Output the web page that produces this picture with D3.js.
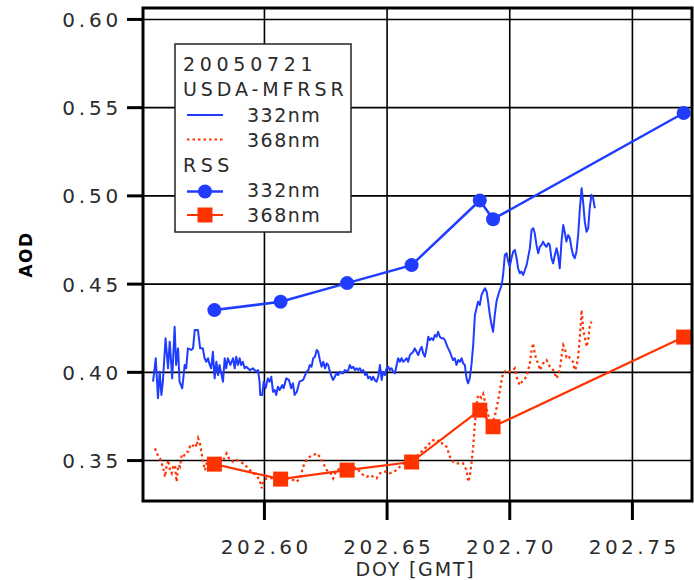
<!DOCTYPE html>
<html><head><meta charset="utf-8">
<script src="https://cdn.jsdelivr.net/npm/d3@7"></script>
<style>
body{margin:0;background:#fff;}
svg{display:block;font-family:"DejaVu Sans",Verdana,sans-serif;}
</style></head>
<body><svg id="c" width="694" height="580"></svg>
<script>
// ---------- data ----------
const xTicks = [202.60, 202.65, 202.70, 202.75];
const yTicks = [0.35, 0.40, 0.45, 0.50, 0.55, 0.60];

const rssDoy = [202.5798, 202.6068, 202.6339, 202.6602, 202.6880, 202.6934, 202.7711];
const rss332 = [0.4350, 0.4397, 0.4503, 0.4605, 0.4971, 0.4865, 0.5467];
const rss368 = [0.3477, 0.3392, 0.3443, 0.3489, 0.3783, 0.3689, 0.4197];

const mfrsrDoy332 = [202.5548,202.5559,202.5568,202.5575,202.5582,202.5588,202.5599,202.5609,202.5616,202.5626,202.5636,202.5642,202.5650,202.5656,202.5667,202.5677,202.5683,202.5690,202.5704,202.5711,202.5718,202.5731,202.5740,202.5751,202.5758,202.5765,202.5772,202.5779,202.5785,202.5792,202.5799,202.5806,202.5813,202.5819,202.5833,202.5840,202.5846,202.5853,202.5863,202.5874,202.5881,202.5887,202.5894,202.5901,202.5907,202.5914,202.5921,202.5928,202.5942,202.5955,202.5969,202.5976,202.5982,202.5985,202.5993,202.5999,202.6007,202.6016,202.6023,202.6030,202.6037,202.6044,202.6050,202.6057,202.6064,202.6075,202.6080,202.6091,202.6102,202.6111,202.6118,202.6125,202.6134,202.6145,
202.6160,202.6174,202.6181,202.6187,202.6194,202.6201,202.6208,202.6215,202.6221,202.6228,202.6235,202.6242,202.6249,202.6256,202.6262,202.6269,202.6276,202.6282,202.6289,202.6296,202.6303,202.6310,202.6317,202.6323,202.6330,202.6337,202.6344,202.6350,202.6357,202.6364,202.6371,202.6378,202.6384,202.6391,202.6398,202.6405,202.6412,202.6419,202.6425,202.6432,202.6439,202.6445,202.6452,202.6459,202.6466,202.6473,202.6480,202.6486,202.6493,202.6500,202.6507,202.6513,202.6520,202.6527,202.6534,202.6541,202.6547,202.6554,202.6561,202.6568,202.6575,202.6582,202.6588,202.6595,202.6602,202.6608,202.6615,202.6622,202.6629,202.6636,202.6643,202.6649,202.6656,202.6663,202.6670,202.6676,202.6683,202.6690,202.6697,202.6704,202.6710,202.6717,202.6724,202.6731,202.6738,202.6745,202.6751,202.6758,202.6765,202.6771,202.6778,202.6785,202.6792,202.6799,202.6806,202.6812,202.6819,202.6826,202.6832,
202.6839,202.6846,202.6853,202.6860,202.6873,202.6880,202.6887,202.6901,202.6908,202.6914,202.6921,202.6928,202.6934,202.6941,202.6948,202.6955,202.6969,202.6975,202.6982,202.6989,202.6996,202.7002,202.7009,202.7016,202.7023,202.7030,202.7036,202.7043,202.7050,202.7057,202.7064,202.7071,202.7084,202.7091,202.7098,202.7104,202.7111,202.7118,202.7125,202.7132,202.7138,202.7145,202.7152,202.7159,202.7165,202.7172,202.7179,202.7186,202.7193,202.7199,202.7206,202.7213,202.7220,202.7227,202.7233,202.7240,202.7247,202.7254,202.7260,202.7267,202.7274,202.7281,202.7288,202.7295,202.7301,202.7308,202.7315,202.7322,202.7328,202.7335,202.7342,202.7349];
const mfrsr332 = [0.3944,0.4077,0.3850,0.4001,0.3869,0.3944,0.4190,0.4020,0.4171,0.3963,0.4256,0.4039,0.4133,0.3944,0.3907,0.4039,0.4020,0.4133,0.4124,0.4133,0.4237,0.4237,0.4133,0.4133,0.4077,0.4057,0.4077,0.4039,0.4020,0.4114,0.3963,0.4057,0.3982,0.4039,0.3944,0.4077,0.4020,0.4077,0.4039,0.4077,0.4020,0.4086,0.4039,0.4077,0.4039,0.4057,0.4020,0.4029,0.4010,0.4020,0.4001,0.4010,0.3944,0.3869,0.3869,0.3944,0.3907,0.3963,0.3944,0.3972,0.3887,0.3897,0.3869,0.3916,0.3897,0.3925,0.3907,0.3963,0.3954,0.3907,0.3935,0.3869,0.3887,0.3944,
0.3954,0.4001,0.4010,0.4039,0.4029,0.4077,0.4086,0.4124,0.4114,0.4067,0.4029,0.4057,0.4020,0.4048,0.4039,0.4001,0.3972,0.3954,0.3972,0.3992,0.3982,0.4001,0.3992,0.3992,0.4010,0.4001,0.4010,0.4039,0.4020,0.4029,0.4010,0.4020,0.4010,0.4020,0.4001,0.4010,0.3982,0.3992,0.3963,0.3972,0.3954,0.3972,0.3954,0.3944,0.3972,0.4039,0.3954,0.4001,0.3982,0.4020,0.4029,0.4010,0.4020,0.4001,0.3992,0.4039,0.4077,0.4057,0.4077,0.4057,0.4067,0.4077,0.4057,0.4095,0.4105,0.4114,0.4133,0.4114,0.4095,0.4124,0.4142,0.4105,0.4086,0.4133,0.4199,0.4180,0.4190,0.4180,0.4209,0.4199,0.4227,0.4199,0.4190,0.4190,0.4180,0.4152,0.4133,0.4114,0.4086,0.4067,0.4077,0.4039,0.4067,0.4057,0.4077,0.4048,0.4039,0.3963,0.3935,
0.3963,0.4039,0.4152,0.4322,0.4398,0.4379,0.4436,0.4474,0.4454,0.4398,0.4322,0.4265,0.4227,0.4322,0.4398,0.4436,0.4492,0.4549,0.4662,0.4672,0.4624,0.4596,0.4644,0.4681,0.4691,0.4644,0.4587,0.4559,0.4568,0.4549,0.4577,0.4606,0.4700,0.4804,0.4814,0.4785,0.4719,0.4672,0.4709,0.4719,0.4738,0.4719,0.4709,0.4729,0.4719,0.4644,0.4615,0.4662,0.4700,0.4662,0.4587,0.4738,0.4832,0.4785,0.4738,0.4776,0.4757,0.4700,0.4662,0.4644,0.4681,0.4776,0.4927,0.5041,0.4965,0.4851,0.4794,0.4814,0.4927,0.5003,0.4984,0.4927];

const mfrsrDoy368 = [202.5556,202.5563,202.5576,202.5583,202.5590,202.5597,202.5603,202.5610,202.5617,202.5624,202.5630,202.5637,202.5644,202.5651,202.5658,202.5665,202.5671,202.5685,202.5692,202.5698,202.5705,202.5712,202.5719,202.5726,202.5732,202.5739,202.5746,202.5753,202.5760,202.5767,202.5780,202.5800,202.5821,202.5834,202.5848,202.5861,202.5875,202.5889,202.5902,202.5916,202.5930,202.5943,202.5956,202.5970,202.5977,202.5984,202.5991,202.5997,202.6011,202.6045,202.6086,202.6106,202.6119,202.6133,202.6147,202.6160,202.6174,202.6187,202.6201,202.6215,202.6228,202.6242,202.6256,202.6269,202.6282,202.6296,202.6318,202.6350,202.6364,202.6378,202.6391,202.6405,202.6419,202.6432,202.6445,202.6459,202.6473,202.6486,202.6500,202.6513,202.6527,202.6541,202.6554,202.6568,202.6587,202.6615,202.6636,202.6649,202.6663,202.6676,202.6690,202.6704,202.6717,202.6731,202.6745,202.6758,202.6772,202.6785,202.6799,202.6812,202.6826,202.6833,202.6839,202.6846,202.6853,202.6860,202.6867,202.6873,202.6887,202.6894,202.6909,202.6925,202.6941,202.6955,202.6969,202.6975,202.6989,202.7002,202.7016,202.7023,202.7030,202.7036,202.7043,202.7057,202.7071,202.7077,202.7084,202.7091,202.7097,202.7104,202.7111,202.7118,202.7125,202.7138,202.7152,202.7165,202.7179,202.7193,202.7206,202.7213,202.7220,202.7227,202.7233,202.7240,202.7247,202.7260,202.7267,202.7274,202.7281,202.7288,202.7295,202.7299,202.7301,202.7308,202.7315,202.7322,202.7328,202.7335];
const mfrsr368 = [0.3566,0.3538,0.3510,0.3481,0.3453,0.3405,0.3462,0.3500,0.3443,0.3425,0.3462,0.3472,0.3377,0.3472,0.3462,0.3528,0.3519,0.3547,0.3547,0.3575,0.3566,0.3585,0.3595,0.3575,0.3623,0.3595,0.3538,0.3481,0.3443,0.3490,0.3481,0.3472,0.3481,0.3500,0.3538,0.3500,0.3490,0.3500,0.3490,0.3481,0.3462,0.3443,0.3425,0.3415,0.3396,0.3377,0.3340,0.3377,0.3396,0.3398,0.3398,0.3396,0.3387,0.3377,0.3396,0.3462,0.3500,0.3519,0.3528,0.3538,0.3519,0.3481,0.3443,0.3434,0.3396,0.3443,0.3455,0.3460,0.3462,0.3453,0.3434,0.3415,0.3405,0.3415,0.3405,0.3396,0.3425,0.3434,0.3434,0.3425,0.3434,0.3443,0.3462,0.3481,0.3489,0.3511,0.3538,0.3557,0.3575,0.3595,0.3613,0.3604,0.3613,0.3585,0.3575,0.3519,0.3490,0.3481,0.3481,0.3481,0.3443,0.3377,0.3405,0.3481,0.3575,0.3708,0.3812,0.3869,0.3852,0.3874,0.3784,0.3698,0.3746,0.3840,0.3954,0.3992,0.4010,0.4001,0.4010,0.4020,0.3972,0.3944,0.3925,0.3954,0.3972,0.4010,0.4048,0.4124,0.4162,0.4105,0.4067,0.4048,0.4010,0.4048,0.4067,0.4029,0.4010,0.3963,0.4010,0.4086,0.4152,0.4133,0.4086,0.4095,0.4077,0.4057,0.4010,0.4029,0.4086,0.4199,0.4351,0.4294,0.4237,0.4199,0.4142,0.4180,0.4256,0.4284];

const legendTitle = ["20050721", "USDA-MFRSR"];
const legendGroup2 = "RSS";
const seriesLabels = ["332nm", "368nm"];

// ---------- styles ----------
const BLUE = "#1f3cff", RED = "#ff3300", TXT = "#2b2b2b";
const L = 143, R = 692, T = 8, B = 501;

const svg = d3.select("#c");
const x = d3.scaleLinear().domain([202.5507, 202.7745]).range([L, R]);
const y = d3.scaleLinear().domain([0.3268, 0.6062]).range([B, T]);

// gridlines
svg.append("g").attr("transform", `translate(0,${B})`)
  .call(d3.axisBottom(x).tickValues(xTicks).tickSize(-(B - T)).tickFormat(""))
  .call(g => { g.select(".domain").remove(); g.selectAll("line").attr("stroke", "#000").attr("stroke-width", 1.6); });
svg.append("g").attr("transform", `translate(${L},0)`)
  .call(d3.axisLeft(y).tickValues(yTicks).tickSize(-(R - L)).tickFormat(""))
  .call(g => { g.select(".domain").remove(); g.selectAll("line").attr("stroke", "#000").attr("stroke-width", 1.6); });

// outer ticks + labels
svg.append("g").attr("transform", `translate(0,${B})`)
  .call(d3.axisBottom(x).tickValues(xTicks).tickSize(19).tickFormat(d => d.toFixed(2)))
  .call(g => {
    g.select(".domain").remove();
    g.selectAll("line").attr("stroke", "#000").attr("stroke-width", 3);
    g.selectAll("text").attr("y", 53).attr("dy", 0).attr("fill", TXT)
      .style("font-size", "20px").style("letter-spacing", "3.5px").attr("dx", 1.75)
      .style("font-family", "DejaVu Sans");
  });
svg.append("g").attr("transform", `translate(${L},0)`)
  .call(d3.axisLeft(y).tickValues(yTicks).tickSize(16).tickFormat(d => d.toFixed(2)))
  .call(g => {
    g.select(".domain").remove();
    g.selectAll("line").attr("stroke", "#000").attr("stroke-width", 3);
    g.selectAll("text").attr("x", -21).attr("dy", "0.37em").attr("fill", TXT)
      .style("font-size", "20px").style("letter-spacing", "3.8px")
      .style("font-family", "DejaVu Sans");
  });

// axis titles
svg.append("text").attr("x", (L + R) / 2 - 2).attr("y", 576).attr("text-anchor", "middle")
  .attr("fill", TXT).style("font-size", "19px").style("letter-spacing", "1.8px")
  .text("DOY  [GMT]");
svg.append("text").attr("transform", `translate(32,${(T + B) / 2}) rotate(-90)`)
  .attr("text-anchor", "middle").attr("fill", "#000").style("font-size", "17px")
  .style("font-weight", "bold").style("letter-spacing", "1.5px").text("AOD");

// MFRSR lines
const m332 = mfrsrDoy332.map((d, i) => [d, mfrsr332[i]]);
const m368 = mfrsrDoy368.map((d, i) => [d, mfrsr368[i]]);
const line = d3.line().x(d => x(d[0])).y(d => y(d[1]));
svg.append("path").datum(m332).attr("d", line).attr("fill", "none")
  .attr("stroke", BLUE).attr("stroke-width", 2).attr("stroke-linejoin", "round");
svg.append("path").datum(m368).attr("d", line).attr("fill", "none")
  .attr("stroke", RED).attr("stroke-width", 2.2).attr("stroke-dasharray", "2.5,3");

// RSS
const r332 = rssDoy.map((d, i) => [d, rss332[i]]);
const r368 = rssDoy.map((d, i) => [d, rss368[i]]);
svg.append("path").datum(r332).attr("d", line).attr("fill", "none")
  .attr("stroke", BLUE).attr("stroke-width", 2.5);
svg.append("g").selectAll("circle").data(r332).join("circle")
  .attr("cx", d => x(d[0])).attr("cy", d => y(d[1])).attr("r", 7).attr("fill", BLUE);
svg.append("path").datum(r368).attr("d", line).attr("fill", "none")
  .attr("stroke", RED).attr("stroke-width", 2.2);
svg.append("g").selectAll("rect").data(r368).join("rect")
  .attr("x", d => x(d[0]) - 7.5).attr("y", d => y(d[1]) - 7.5)
  .attr("width", 15).attr("height", 15).attr("fill", RED);

// legend
const lg = svg.append("g");
lg.append("rect").attr("x", 175).attr("y", 44).attr("width", 176).attr("height", 188)
  .attr("fill", "#fff").attr("stroke", "#222").attr("stroke-width", 1.5);
const tStyle = s => s.attr("fill", TXT).style("font-size", "19px");
tStyle(lg.append("text").attr("x", 183).attr("y", 71).style("letter-spacing", "4.7px").text(legendTitle[0]));
tStyle(lg.append("text").attr("x", 183).attr("y", 96).style("letter-spacing", "3.9px").text(legendTitle[1]));
tStyle(lg.append("text").attr("x", 183).attr("y", 172).style("letter-spacing", "4.5px").text(legendGroup2));
[122, 147, 197, 222].forEach((yy, i) => {
  tStyle(lg.append("text").attr("x", 247).attr("y", yy).style("letter-spacing", "1.5px").text(seriesLabels[i % 2]));
});
lg.append("line").attr("x1", 187).attr("x2", 223).attr("y1", 115).attr("y2", 115)
  .attr("stroke", BLUE).attr("stroke-width", 2);
lg.append("line").attr("x1", 187).attr("x2", 223).attr("y1", 139.5).attr("y2", 139.5)
  .attr("stroke", RED).attr("stroke-width", 2).attr("stroke-dasharray", "2.5,3");
lg.append("line").attr("x1", 187).attr("x2", 223).attr("y1", 191.5).attr("y2", 191.5)
  .attr("stroke", BLUE).attr("stroke-width", 2.5);
lg.append("circle").attr("cx", 205).attr("cy", 191.5).attr("r", 7).attr("fill", BLUE);
lg.append("line").attr("x1", 187).attr("x2", 223).attr("y1", 215).attr("y2", 215)
  .attr("stroke", RED).attr("stroke-width", 2.2);
lg.append("rect").attr("x", 197.5).attr("y", 207.5).attr("width", 15).attr("height", 15).attr("fill", RED);

// frame
svg.append("rect").attr("x", L).attr("y", T).attr("width", R - L).attr("height", B - T)
  .attr("fill", "none").attr("stroke", "#000").attr("stroke-width", 3);
</script></body></html>
